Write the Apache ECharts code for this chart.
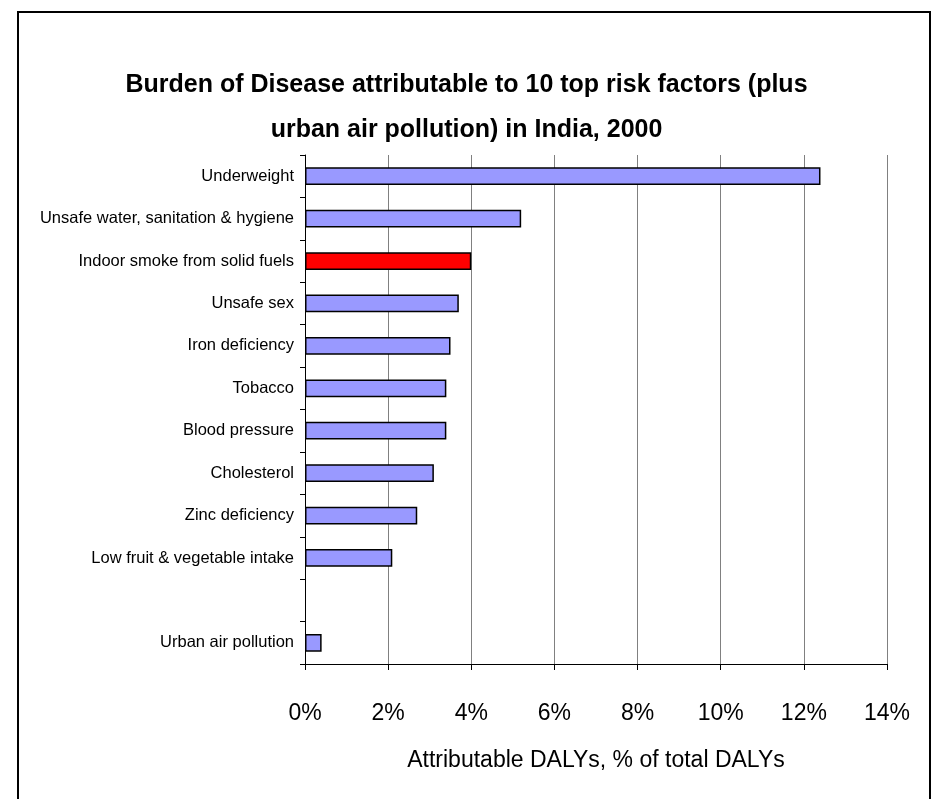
<!DOCTYPE html>
<html>
<head>
<meta charset="utf-8">
<script src="https://cdn.jsdelivr.net/npm/echarts@6/dist/echarts.min.js"></script>
<style>
html,body{margin:0;padding:0;background:#fff;}
#chart{width:933px;height:799px;}
</style>
</head>
<body>
<div id="chart"></div>
<script>
const categories = [
  'Underweight',
  'Unsafe water, sanitation & hygiene',
  'Indoor smoke from solid fuels',
  'Unsafe sex',
  'Iron deficiency',
  'Tobacco',
  'Blood pressure',
  'Cholesterol',
  'Zinc deficiency',
  'Low fruit & vegetable intake',
  '',
  'Urban air pollution'
];
const values = [12.4, 5.2, 4.0, 3.7, 3.5, 3.4, 3.4, 3.1, 2.7, 2.1, null, 0.4];
const highlighted = 'Indoor smoke from solid fuels';
const xTicks = { min: 0, max: 14, interval: 2 };
const titleText = 'Burden of Disease attributable to 10 top risk factors (plus\nurban air pollution) in India, 2000';
const xAxisName = 'Attributable DALYs, % of total DALYs';

const FONT = '"Liberation Sans Narrow", "Arial Narrow", "Liberation Sans", Arial, sans-serif';

const chart = echarts.init(document.getElementById('chart'));
chart.setOption({
  animation: false,
  backgroundColor: '#fff',
  title: {
    text: titleText,
    left: 'center',
    top: 58,
    textStyle: { fontFamily: FONT, fontWeight: 'bold', fontSize: 25, color: '#000', lineHeight: 45 }
  },
  graphic: [{
    type: 'rect',
    shape: { x: 18, y: 12, width: 912, height: 800 },
    style: { fill: 'none', stroke: '#000', lineWidth: 2 },
    silent: true
  }],
  grid: { left: 305, right: 46, top: 155, bottom: 135, containLabel: false },
  xAxis: {
    type: 'value',
    min: xTicks.min,
    max: xTicks.max,
    interval: xTicks.interval,
    name: xAxisName,
    nameLocation: 'middle',
    nameGap: 85,
    nameTextStyle: { fontFamily: FONT, fontSize: 23, color: '#000' },
    axisLine: { show: true, lineStyle: { color: '#000', width: 1 } },
    axisTick: { show: true, length: 6, lineStyle: { color: '#000' } },
    axisLabel: { formatter: '{value}%', fontFamily: FONT, fontSize: 23, color: '#000', margin: 38 },
    splitLine: { show: true, lineStyle: { color: '#808080', width: 1 } }
  },
  yAxis: {
    type: 'category',
    data: categories,
    inverse: true,
    axisLine: { show: true, lineStyle: { color: '#000', width: 1 } },
    axisTick: { show: true, length: 5, lineStyle: { color: '#000' } },
    axisLabel: { fontFamily: FONT, fontSize: 16.5, color: '#000', margin: 11 },
    splitLine: { show: false }
  },
  series: [{
    type: 'bar',
    data: values.map((v, i) => ({
      value: v,
      itemStyle: { color: categories[i] === highlighted ? '#FF0000' : '#9999FF' }
    })),
    barCategoryGap: '58%',
    itemStyle: { borderColor: '#000', borderWidth: 1.5 }
  }]
});
</script>
</body>
</html>
